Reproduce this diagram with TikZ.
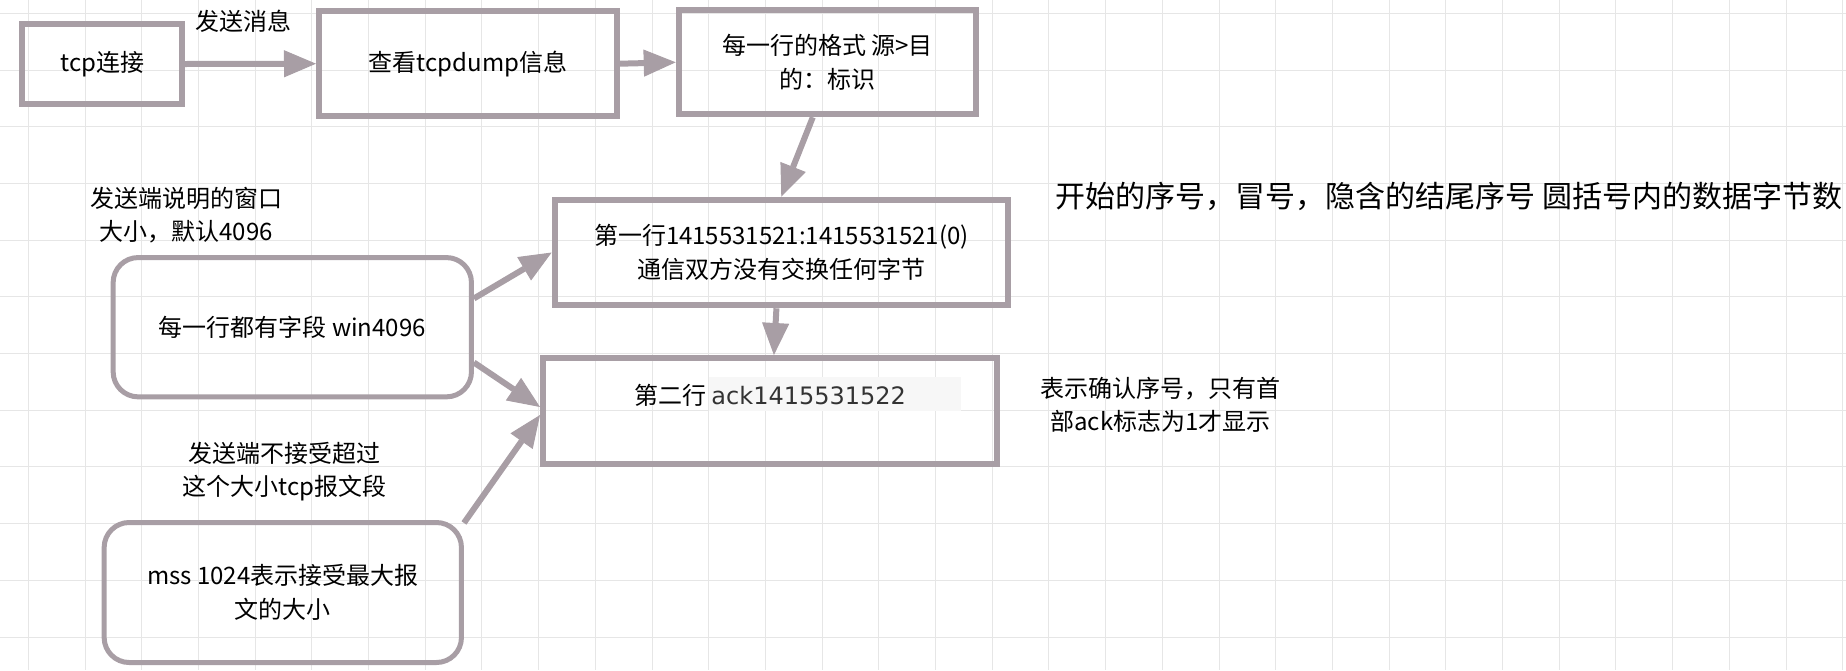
\documentclass[tikz,border=0pt]{standalone}
\usepackage{fontspec}
\setmainfont{Noto Sans CJK SC}
\newfontfamily\ackfont{DejaVu Sans}
\usepackage{xcolor}
\usetikzlibrary{positioning}
\usetikzlibrary{arrows.meta}
\definecolor{boxgray}{RGB}{168,158,165}
\definecolor{gridgray}{RGB}{230,230,230}
\definecolor{ackbg}{RGB}{247,247,247}
\definecolor{acktext}{RGB}{51,51,51}

\begin{document}
\begin{tikzpicture}[x=1pt, y=-1pt,
    font=\fontsize{24}{33.4}\selectfont,
    box/.style={draw=boxgray, line width=6pt, align=center},
    roundbox/.style={draw=boxgray, line width=5pt, rounded corners=25pt, align=center},
    note/.style={align=center},
    link/.style={draw=boxgray, line width=6pt, -{Triangle[length=32pt,width=27pt,line width=1pt]}}]
    \useasboundingbox (0,0) rectangle (1846,670);
    \foreach \gx in {28.35,85.05,...,1846} \draw[gridgray, line width=1pt] (\gx,0) -- (\gx,670);
    \foreach \gy in {13.3,70,...,670} \draw[gridgray, line width=1pt] (0,\gy) -- (1846,\gy);

    \node[box, minimum width=159.7pt, minimum height=80.6pt] (tcp) at (102.2,64) {tcp连接};
    \node[box, minimum width=298pt, minimum height=104.7pt] (dump) at (468,63.7) {查看tcpdump信息};
    \node[box, minimum width=297.6pt, minimum height=104pt] (fmt) at (827.5,62.3) {每一行的格式 源>目\\的：标识};
    \node[box, minimum width=453.3pt, minimum height=105.6pt] (line1) at (781.3,252.5) {第一行1415531521:1415531521(0)\\通信双方没有交换任何字节};
    \fill[ackbg] (709,377.3) rectangle (960.7,411);
    \node[box, minimum width=454pt, minimum height=106pt] (line2) at (770,411) {第二行 {\ackfont\color{acktext}ack1415531522}\\ \mbox{}};
    \node[roundbox, minimum width=358.3pt, minimum height=139.3pt] (win) at (292.3,327.2) {每一行都有字段 win4096};
    \node[roundbox, minimum width=357.3pt, minimum height=140pt] (mss) at (282.8,592.5) {mss 1024表示接受最大报\\文的大小};

    \node[note] (sendlbl) at (243,21) {发送消息};
    \node[note] (winlbl) at (186,215) {发送端说明的窗口\\大小，默认4096};
    \node[note] (msslbl) at (284.7,471.7) {发送端不接受超过\\这个大小tcp报文段};
    \node[note, font=\fontsize{30}{36}\selectfont] (seqlbl) at (1449,196.7) {开始的序号，冒号，隐含的结尾序号 圆括号内的数据字节数};
    \node[note] (acklbl) at (1160.5,405) {表示确认序号，只有首\\部ack标志为1才显示};

    \draw[link] (tcp.east) -- (dump.west);
    \draw[link] (dump.east) -- (fmt.west);
    \draw[link] (fmt.255) -- (line1.north);
    \draw[link] (line1.265) -- (line2.86);
    \draw[link] (win.9) -- (line1.west);
    \draw[link] (win.349) -- (line2.179);
    \draw[link] (mss.21) -- (line2.181);
\end{tikzpicture}
\end{document}
